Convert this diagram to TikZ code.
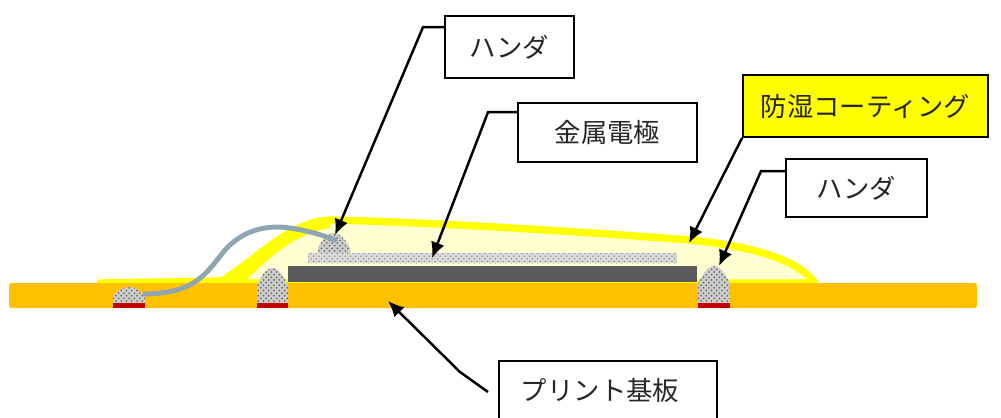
\documentclass[tikz,border=0pt]{standalone}
\usepackage{fontspec}
\setmainfont{Noto Sans CJK JP}
\usetikzlibrary{arrows.meta, patterns, positioning}
\definecolor{boardorange}{HTML}{FFC000}
\definecolor{coatline}{HTML}{FFFF00}
\definecolor{coatfill}{HTML}{FFFFD2}
\definecolor{electrodegray}{HTML}{5A5A5A}
\definecolor{padred}{HTML}{C00000}
\definecolor{wireblue}{HTML}{8FA6B0}
\tikzset{
  labelbox/.style={draw, line width=1.1pt, fill=white, inner sep=0pt, font=\fontsize{15}{18}\selectfont, text=black!85},
  leader/.style={line width=1.4pt, -{Latex[length=9pt, width=8pt]}},
  solder/.style={preaction={fill=gray!40}, pattern=crosshatch dots, pattern color=gray!70!black},
  pad/.style={fill=padred}
}
\begin{document}
\begin{tikzpicture}[x=0.02cm, y=-0.02cm]
  \useasboundingbox (0,0) rectangle (1001,417);
  \clip (0,0) rectangle (1001,417);

  \filldraw[fill=coatfill, draw=coatline, line width=4.2pt, line join=round]
    (100,283) -- (222,281) .. controls (258,258) and (290,222) .. (330,220)
    .. controls (420,222) and (560,230) .. (690,240)
    .. controls (760,247) and (800,262) .. (815,283) -- cycle;
  \fill[coatline] (222,281) .. controls (258,258) and (290,222) .. (330,220)
    -- (330,228) .. controls (295,232) and (265,262) .. (245,281) -- cycle;

  \fill[boardorange, rounded corners=1.5pt] (9,283) rectangle (977,308);
  \fill[electrodegray] (288,266) rectangle (697,282);
  \fill[preaction={fill=gray!28}, pattern=crosshatch dots, pattern color=gray!85]
    (308,253) rectangle (677,263);

  \fill[solder] (113,303) -- (113,296) parabola bend (129,287) (145,296) -- (145,303) -- cycle;
  \fill[solder] (257,303) -- (257,286) parabola bend (272.5,268) (288,286) -- (288,303) -- cycle;
  \fill[solder] (698,303) -- (698,284) parabola bend (714,266) (730,284) -- (730,303) -- cycle;
  \fill[solder] (318,253) -- (318,248) parabola bend (334,233) (350,248) -- (350,253) -- cycle;
  \fill[pad] (113,303) rectangle (145,308);
  \fill[pad] (257,303) rectangle (288,308);
  \fill[pad] (698,303) rectangle (730,308);

  \draw[wireblue, line width=2.8pt, line cap=round]
    (145,294) .. controls (195,293) and (205,275) .. (225,250)
    .. controls (245,228) and (270,225) .. (290,228)
    .. controls (310,231) and (325,236) .. (335,240);

  \node[labelbox, minimum width=2.58cm, minimum height=1.24cm] (solderTopLbl) at (509.5,47) {ハンダ};
  \node[labelbox, minimum width=3.58cm, minimum height=1.18cm] (electrodeLbl) at (607.5,132.5) {金属電極};
  \node[labelbox, fill=coatline, minimum width=4.9cm, minimum height=1.24cm] (coatingLbl) at (865.5,106) {防湿コーティング};
  \node[labelbox, minimum width=2.82cm, minimum height=1.16cm] (solderRightLbl) at (856.5,188) {ハンダ};
  \node[labelbox, anchor=north west, inner xsep=0.44cm, text width=3.48cm, align=left, minimum height=1.2cm] (boardLbl) at (498,360) {プリント基板};

  \coordinate (solderTopTip) at (335,235);
  \coordinate (electrodeTip) at (432,258);
  \coordinate (coatingTip) at (689,243);
  \coordinate (solderRightTip) at (719,266);
  \coordinate (boardTip) at (388,301);

  \draw[leader] (solderTopLbl.north west) ++(0,12) -- ++(-21,0) -- (solderTopTip);
  \draw[leader] (electrodeLbl.north west) ++(0,10) -- ++(-29,0) -- (electrodeTip);
  \draw[leader] (coatingLbl.south west) -- (coatingTip);
  \draw[leader] (solderRightLbl.north west) ++(0,13) -- ++(-24,0) -- (solderRightTip);
  \draw[leader] (boardLbl.north west) ++(-10,32) -- ++(-28,-20) -- (boardTip);
\end{tikzpicture}
\end{document}
